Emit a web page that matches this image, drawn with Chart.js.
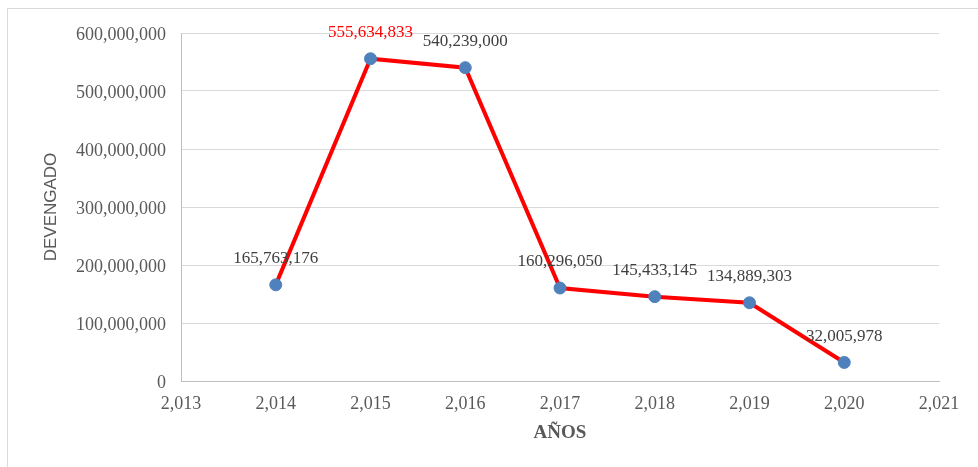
<!DOCTYPE html>
<html>
<head>
<meta charset="utf-8">
<script src="https://cdn.jsdelivr.net/npm/chart.js@4.4.1/dist/chart.umd.min.js"></script>
<style>
  body { margin: 0; background: #fff; }
  #frame { position: absolute; left: 7px; top: 8px; width: 980px; height: 470px;
           border-left: 1px solid #d9d9d9; border-top: 1px solid #d9d9d9; }
  #chart { position: absolute; left: 0; top: 0; }
</style>
</head>
<body>
<div id="frame"></div>
<canvas id="chart" width="978" height="467"></canvas>
<script>
// años y devengado
const years = [2014, 2015, 2016, 2017, 2018, 2019, 2020];
const devengado = [165763176, 555634833, 540239000, 160296050, 145433145, 134889303, 32005978];
const labelColors = ["#404040", "#ff0000", "#404040", "#404040", "#404040", "#404040", "#404040"];
const xMin = 2013, xMax = 2021;
const yMin = 0, yMax = 600000000, yStep = 100000000;

const fmt = v => Number(v).toLocaleString("en-US");

// etiquetas de datos encima de cada punto
const pointLabels = {
    id: "pointLabels",
    afterDatasetsDraw(chart) {
        const ctx = chart.ctx;
        const meta = chart.getDatasetMeta(0);
        ctx.save();
        ctx.font = "17px 'Liberation Serif', 'Times New Roman', serif";
        ctx.textAlign = "center";
        ctx.textBaseline = "middle";
        meta.data.forEach((el, i) => {
            ctx.fillStyle = labelColors[i];
            ctx.fillText(fmt(devengado[i]), el.x, el.y - 26);
        });
        ctx.restore();
    }
};

const ctx = document.getElementById("chart").getContext("2d");
const myChart = new Chart(ctx, {
    type: "line",
    data: {
        datasets: [{
            label: "DEVENGADO",
            data: years.map((y, i) => ({ x: y, y: devengado[i] })),
            borderColor: "#ff0000",
            borderWidth: 4,
            tension: 0,
            pointRadius: 6,
            pointHoverRadius: 6,
            pointBackgroundColor: "#4f81bd",
            pointBorderColor: "#4f81bd",
            pointBorderWidth: 1
        }]
    },
    options: {
        responsive: false,
        animation: false,
        layout: { padding: { top: 33, right: 39, left: 0, bottom: 0 } },
        plugins: { legend: { display: false }, tooltip: { enabled: false } },
        scales: {
            x: {
                type: "linear",
                min: xMin, max: xMax,
                afterFit: s => { s.height = 86; },
                grid: { display: false, drawTicks: false },
                border: { display: true, color: "#bfbfbf", width: 1 },
                ticks: {
                    stepSize: 1, padding: 12, color: "#595959",
                    font: { family: "'Liberation Serif', serif", size: 18 },
                    callback: v => fmt(v)
                },
                title: {
                    display: true, text: "AÑOS", color: "#595959",
                    font: { family: "'Liberation Serif', serif", size: 19, weight: "bold" },
                    padding: { top: 0, bottom: 23 }
                }
            },
            y: {
                min: yMin, max: yMax,
                afterFit: s => { s.width = 181; },
                grid: { color: "#d9d9d9", drawTicks: false },
                border: { display: true, color: "#bfbfbf", width: 1 },
                ticks: {
                    stepSize: yStep, padding: 15, color: "#595959", labelOffset: 2,
                    font: { family: "'Liberation Serif', serif", size: 18 },
                    callback: v => fmt(v)
                },
                title: {
                    display: true, text: "DEVENGADO", color: "#595959",
                    font: { family: "'Liberation Sans', Arial, sans-serif", size: 17 },
                    padding: { top: 41, bottom: 0 }
                }
            }
        }
    },
    plugins: [pointLabels]
});
</script>
</body>
</html>
